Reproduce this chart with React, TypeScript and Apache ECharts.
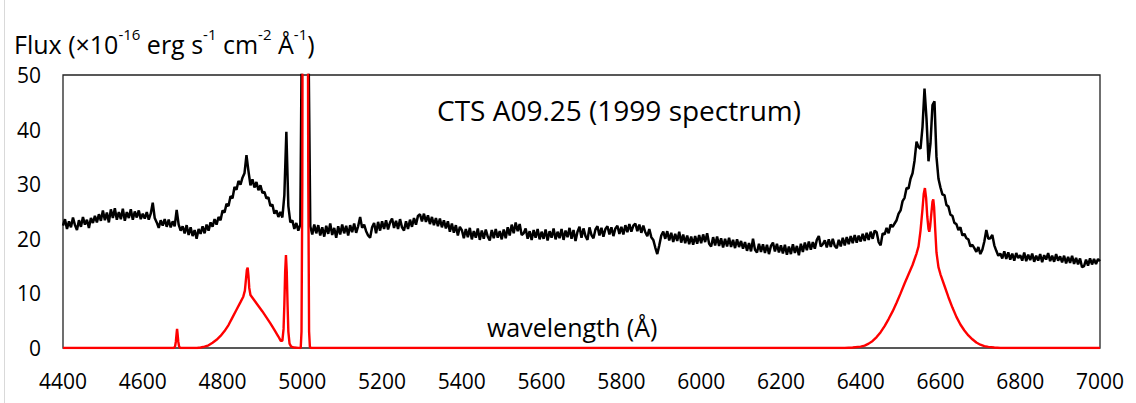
import React, { useEffect, useRef } from "react";
import * as echarts from "echarts";

// Observed spectrum (black): flux sampled every 5 Å starting at 4400 Å
const blackStart = 4400;
const blackStep = 5;
const blackFlux = [
  // 4400
  22.4, 23.6, 21.8, 23.2, 22.1, 23.9, 22.5, 21.6, 23.4, 22.2, 24.0, 22.6, 23.5, 22.0, 23.8, 22.9, 24.2, 23.0, 24.5, 23.3,
  // 4500
  25.2, 23.4, 24.8, 23.0, 25.4, 23.8, 25.6, 23.5, 24.9, 23.6, 25.5, 23.3, 24.9, 23.8, 25.4, 23.5, 25.0, 23.9, 25.2, 23.6,
  // 4600
  24.6, 23.7, 24.9, 23.5, 24.6, 26.6, 23.8, 23.0, 22.0, 23.4, 22.4, 23.6, 22.2, 23.5, 22.1, 23.2, 22.3, 25.3, 22.6, 21.5,
  // 4700
  22.3, 21.0, 22.5, 20.7, 22.1, 20.5, 21.6, 20.0, 21.8, 20.9, 22.3, 21.0, 22.6, 21.5, 23.0, 22.2, 23.6, 22.6, 24.0, 23.4,
  // 4800
  25.2, 24.8, 26.4, 26.0, 27.8, 27.4, 29.5, 29.0, 30.6, 29.9, 31.2, 32.0, 35.3, 32.4, 29.8, 30.9, 29.4, 30.4, 28.9, 29.8,
  // 4900
  28.4, 28.6, 27.4, 27.6, 26.0, 26.3, 24.6, 25.2, 24.0, 24.9, 23.9, 28.0, 39.6, 26.0, 23.0, 23.4, 21.8, 22.9, 21.5, 22.6,
  // 5000
  70, 200, 200, 60, 22.3, 20.8, 22.6, 21.0, 22.5, 20.6, 22.1, 20.4, 22.4, 20.9, 22.8, 20.7, 22.0, 20.2, 22.3, 20.8,
  // 5100
  22.6, 21.0, 22.4, 20.6, 22.5, 21.2, 22.8, 21.1, 22.3, 24.0, 22.0, 22.6, 21.4, 20.6, 20.2, 22.1, 22.9, 21.0, 23.1, 21.5,
  // 5200
  23.2, 21.8, 23.4, 21.7, 23.0, 23.7, 22.0, 23.3, 21.8, 23.6, 22.1, 21.5, 23.2, 21.8, 23.5, 22.2, 23.8, 22.6, 24.2, 24.5,
  // 5300
  23.2, 24.6, 23.1, 24.3, 22.7, 24.0, 22.5, 23.8, 22.3, 23.7, 22.1, 23.4, 21.9, 23.2, 21.3, 22.8, 21.1, 22.5, 20.6, 22.2,
  // 5400
  21.6, 20.1, 21.8, 20.3, 22.0, 19.9, 21.4, 20.2, 21.9, 19.8, 21.5, 20.0, 21.7, 20.4, 19.7, 21.6, 20.1, 21.8, 20.2, 21.4,
  // 5500
  19.9, 21.7, 20.1, 22.1, 20.6, 22.6, 21.0, 23.0, 21.4, 22.7, 20.7, 21.0, 21.9, 20.0, 21.4, 19.8, 21.6, 20.2, 21.8, 19.9,
  // 5600
  21.3, 20.0, 21.7, 19.7, 21.4, 20.2, 21.9, 19.9, 21.3, 20.1, 21.8, 19.8, 21.5, 20.3, 22.0, 20.0, 21.6, 19.6, 21.3, 22.2,
  // 5700
  20.2, 21.9, 20.5, 19.8, 22.1, 20.7, 20.1, 21.7, 22.3, 20.6, 22.0, 20.4, 21.8, 22.3, 20.8, 22.1, 20.5, 21.9, 22.4, 20.9,
  // 5800
  22.2, 20.8, 22.5, 21.2, 22.7, 21.3, 22.4, 22.8, 21.4, 22.6, 21.1, 22.4, 21.2, 20.5, 21.8, 20.3, 19.8, 18.4, 17.2, 18.8,
  // 5900
  20.6, 21.3, 20.0, 21.4, 19.7, 21.1, 19.4, 20.9, 19.6, 21.3, 19.3, 20.8, 19.2, 20.6, 19.0, 20.4, 18.9, 20.5, 19.1, 20.7,
  // 6000
  19.2, 20.8, 19.4, 21.0, 19.1, 18.6, 20.3, 18.8, 20.4, 18.7, 20.1, 18.4, 20.0, 18.6, 20.2, 18.5, 19.8, 18.3, 19.9, 18.5,
  // 6100
  19.6, 18.2, 19.4, 17.8, 19.2, 17.7, 20.0, 18.0, 17.5, 19.1, 17.6, 19.0, 17.4, 18.9, 17.2, 18.7, 19.3, 17.7, 19.1, 17.5,
  // 6200
  18.8, 17.3, 18.9, 17.1, 18.6, 17.2, 19.0, 17.4, 18.7, 17.0, 19.1, 17.6, 19.3, 17.9, 19.5, 18.0, 19.4, 18.2, 19.8, 20.5,
  // 6300
  18.6, 19.0, 19.7, 18.4, 19.9, 18.5, 20.0, 18.7, 18.3, 19.8, 18.6, 20.2, 18.8, 20.3, 19.0, 20.5, 19.2, 20.7, 19.3, 20.6,
  // 6400
  19.5, 20.9, 19.6, 21.1, 19.8, 21.3, 20.0, 21.5, 21.2, 19.4, 18.8, 21.0, 20.8, 22.0, 21.0, 22.6, 22.2, 22.8, 23.4, 24.6,
  // 6500
  25.2, 26.9, 27.5, 29.3, 29.2, 31.0, 32.0, 34.3, 37.8, 36.8, 36.5, 40.5, 47.5, 42.0, 34.2, 37.5, 44.5, 45.2, 35.0, 31.0,
  // 6600
  29.4, 28.1, 28.0, 26.2, 25.9, 24.4, 24.2, 22.9, 22.7, 21.6, 22.1, 20.6, 20.9, 20.1, 19.9, 18.6, 18.9, 18.3, 17.6, 18.5,
  // 6700
  17.2, 18.0, 19.5, 21.6, 20.0, 20.1, 20.7, 18.8, 17.8, 16.9, 17.3, 16.4, 17.7, 16.3, 17.5, 16.2, 17.3, 16.0, 17.4, 16.5,
  // 6800
  17.0, 16.0, 17.5, 15.9, 17.1, 16.1, 17.3, 15.8, 16.9, 16.0, 17.2, 15.7, 17.0, 16.2, 17.4, 15.9, 16.9, 15.8, 17.2, 16.0,
  // 6900
  16.8, 15.7, 16.9, 15.5, 16.7, 15.6, 16.9, 15.4, 16.5, 15.3, 16.4, 14.8, 15.0, 16.2, 15.1, 16.4, 15.3, 16.3, 15.4, 16.3,
  // 7000
  15.9,
];

// Model spectrum (red): [wavelength Å, flux]
const redModel: [number, number][] = [
  [4400, 0], [4678, 0], [4681, 0.3], [4683, 1.2], [4685, 2.8], [4686, 3.5], [4687, 2.8], [4689, 1.2], [4691, 0.3], [4694, 0],
  [4736, 0], [4745, 0.1], [4755, 0.25], [4765, 0.5], [4775, 0.95], [4785, 1.5], [4795, 2.2], [4805, 3.1], [4815, 4.2],
  [4825, 5.6], [4835, 7.0], [4845, 8.4], [4852, 9.4], [4856, 10.5], [4859, 12.8], [4861, 14.3], [4863, 14.7], [4865, 13.2],
  [4867, 11.0], [4870, 9.7], [4875, 9.2], [4880, 8.7], [4890, 7.7], [4900, 6.7], [4910, 5.6], [4920, 4.5], [4930, 3.3],
  [4940, 2.1], [4946, 1.3], [4950, 1.3], [4953, 3.5], [4955, 8], [4957, 14], [4959, 17], [4961, 14], [4963, 8], [4965, 3.0],
  [4968, 0.8], [4972, 0.25], [4980, 0.08], [4990, 0.02], [4996, 0], [4998, 3], [5000, 30], [5002, 120], [5007, 300],
  [5012, 120], [5015, 30], [5017, 3], [5019, 0.2], [5022, 0],
  [6360, 0], [6380, 0.08], [6400, 0.25], [6410, 0.45], [6420, 0.8], [6430, 1.3], [6440, 2.0], [6450, 2.9], [6460, 4.0],
  [6470, 5.3], [6480, 6.7], [6490, 8.3], [6500, 10.0], [6510, 11.8], [6520, 13.5], [6530, 15.2], [6540, 17.3], [6545, 18.6],
  [6550, 21.5], [6555, 25.5], [6558, 28.2], [6561, 29.3], [6564, 27.5], [6567, 24], [6570, 21.8], [6572, 21.3], [6574, 22.2],
  [6577, 24.5], [6580, 26.8], [6582, 27.2], [6584, 25.8], [6587, 21.5], [6590, 17.5], [6595, 14.8], [6600, 13.5], [6610, 11.4],
  [6620, 9.3], [6630, 7.4], [6640, 5.7], [6650, 4.3], [6660, 3.2], [6670, 2.3], [6680, 1.6], [6690, 1.0], [6700, 0.6],
  [6710, 0.35], [6720, 0.2], [6735, 0.08], [6750, 0], [7000, 0],
];

const xMin = 4400;
const xMax = 7000;
const xInterval = 200;
const yMin = 0;
const yMax = 50;
const yInterval = 10;

const titleText = "CTS A09.25 (1999 spectrum)";
const xTitle = "wavelength (Å)";

const FONT = "'Open Sans', sans-serif";

export default function App() {
  const ref = useRef<HTMLDivElement>(null);
  useEffect(() => {
    const chart = echarts.init(ref.current!, null, { renderer: "svg" });
    const blackData = blackFlux.map((v, i) => [blackStart + i * blackStep, v]);
    chart.setOption({
      animation: false,
      backgroundColor: "#fff",
      textStyle: { fontFamily: FONT },
      grid: {
        left: 63,
        right: 36,
        top: 75,
        bottom: 55,
        show: true,
        borderColor: "#222",
        borderWidth: 1.3,
        backgroundColor: "transparent",
      },
      xAxis: {
        type: "value",
        min: xMin,
        max: xMax,
        interval: xInterval,
        axisLine: { show: false },
        axisTick: { show: false },
        splitLine: { show: false },
        axisLabel: {
          color: "#000",
          fontSize: 21,
          fontFamily: FONT,
          margin: 22,
          formatter: (v: number) => String(v),
        },
      },
      yAxis: {
        type: "value",
        min: yMin,
        max: yMax,
        interval: yInterval,
        axisLine: { show: false },
        axisTick: { show: false },
        splitLine: { show: false },
        axisLabel: {
          color: "#000",
          fontSize: 21,
          fontFamily: FONT,
          margin: 22,
          formatter: (v: number) => String(v),
        },
      },
      graphic: [
        {
          type: "line",
          shape: { x1: 4.5, y1: 0, x2: 4.5, y2: 403 },
          style: { stroke: "#d9d9d9", lineWidth: 1 },
        },
        {
          type: "text",
          x: 14,
          y: 26,
          style: {
            text: "{n|Flux (×10}{s|-16}{n| erg s}{s|-1}{n| cm}{s|-2}{n| Å}{s|-1}{n|)}",
            fill: "#000",
            rich: {
              n: { fontSize: 25, fontFamily: FONT, lineHeight: 30, verticalAlign: "bottom", fill: "#000" },
              s: { fontSize: 15, fontFamily: FONT, lineHeight: 18, verticalAlign: "top", fill: "#000" },
            },
          },
        },
        {
          type: "text",
          x: 437,
          y: 110,
          style: {
            text: titleText,
            fill: "#000",
            font: `28px ${FONT}`,
            verticalAlign: "middle",
            align: "left",
          },
        },
        {
          type: "text",
          x: 487,
          y: 327,
          style: {
            text: xTitle,
            fill: "#000",
            font: `25px ${FONT}`,
            verticalAlign: "middle",
            align: "left",
          },
        },
      ],
      series: [
        {
          type: "line",
          data: blackData,
          showSymbol: false,
          symbol: "none",
          lineStyle: { color: "#000", width: 2.5 },
          clip: true,
          z: 3,
        },
        {
          type: "line",
          data: redModel,
          showSymbol: false,
          symbol: "none",
          lineStyle: { color: "#ff0000", width: 2.4 },
          clip: true,
          z: 4,
        },
      ],
    });
    return () => chart.dispose();
  }, []);
  return (
    <div
      ref={ref}
      style={{ position: "fixed", left: 0, top: 0, width: 1136, height: 403, background: "#fff" }}
    />
  );
}
